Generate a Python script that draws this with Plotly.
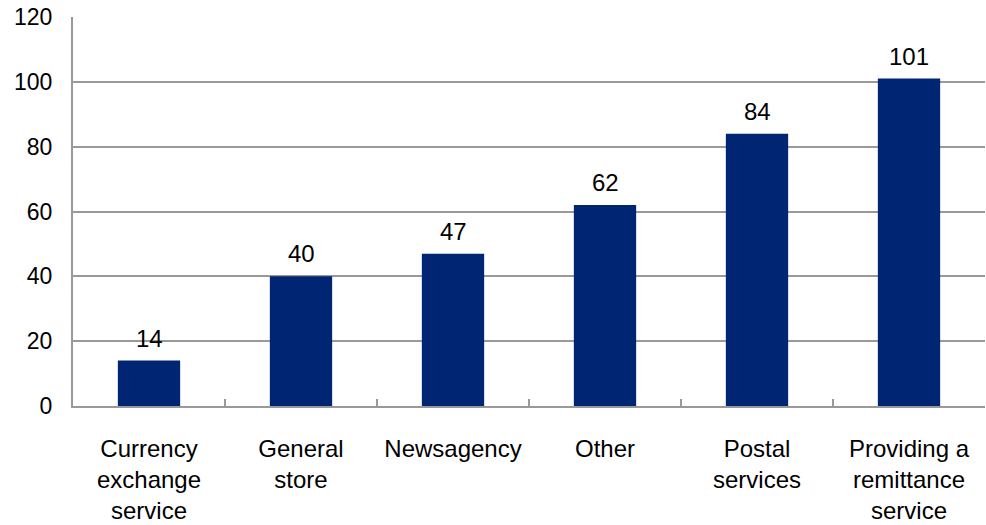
import plotly.graph_objects as go

categories = [
    "Currency<br>exchange<br>service",
    "General<br>store",
    "Newsagency",
    "Other",
    "Postal<br>services",
    "Providing a<br>remittance<br>service",
]
counts = [14, 40, 47, 62, 84, 101]
y_ticks = [0, 20, 40, 60, 80, 100, 120]

bar_color = "#002673"
grid_color = "#999999"
font_family = "Liberation Sans, Arial, sans-serif"
font_size = 24

fig = go.Figure(
    go.Bar(
        x=categories,
        y=counts,
        marker=dict(color=bar_color, line=dict(width=0)),
        width=0.41,
        hoverinfo="x+y",
    )
)

# value labels above each bar
for cat, val in zip(categories, counts):
    fig.add_annotation(
        x=cat, y=val, text=str(val), showarrow=False,
        yanchor="bottom", yshift=7,
        font=dict(family=font_family, size=font_size, color="#000000"),
    )

fig.update_layout(
    width=986, height=525,
    margin=dict(l=73, r=1, t=17, b=117),
    paper_bgcolor="white", plot_bgcolor="white",
    showlegend=False,
    font=dict(family=font_family, size=font_size, color="#000000"),
)

fig.update_xaxes(
    showline=True, linecolor=grid_color, linewidth=2,
    ticks="inside", tickson="boundaries", ticklen=7, tickwidth=2, tickcolor=grid_color,
    showgrid=False, tickfont=dict(size=font_size), ticklabelstandoff=20,
)
fig.update_yaxes(
    range=[0, 120], tickvals=y_ticks,
    showline=True, linecolor=grid_color, linewidth=2,
    showgrid=True, gridcolor=grid_color, gridwidth=1.5,
    zeroline=False, ticks="", ticklabelstandoff=14,
    tickfont=dict(size=23),
)

fig.write_html("out.html")
